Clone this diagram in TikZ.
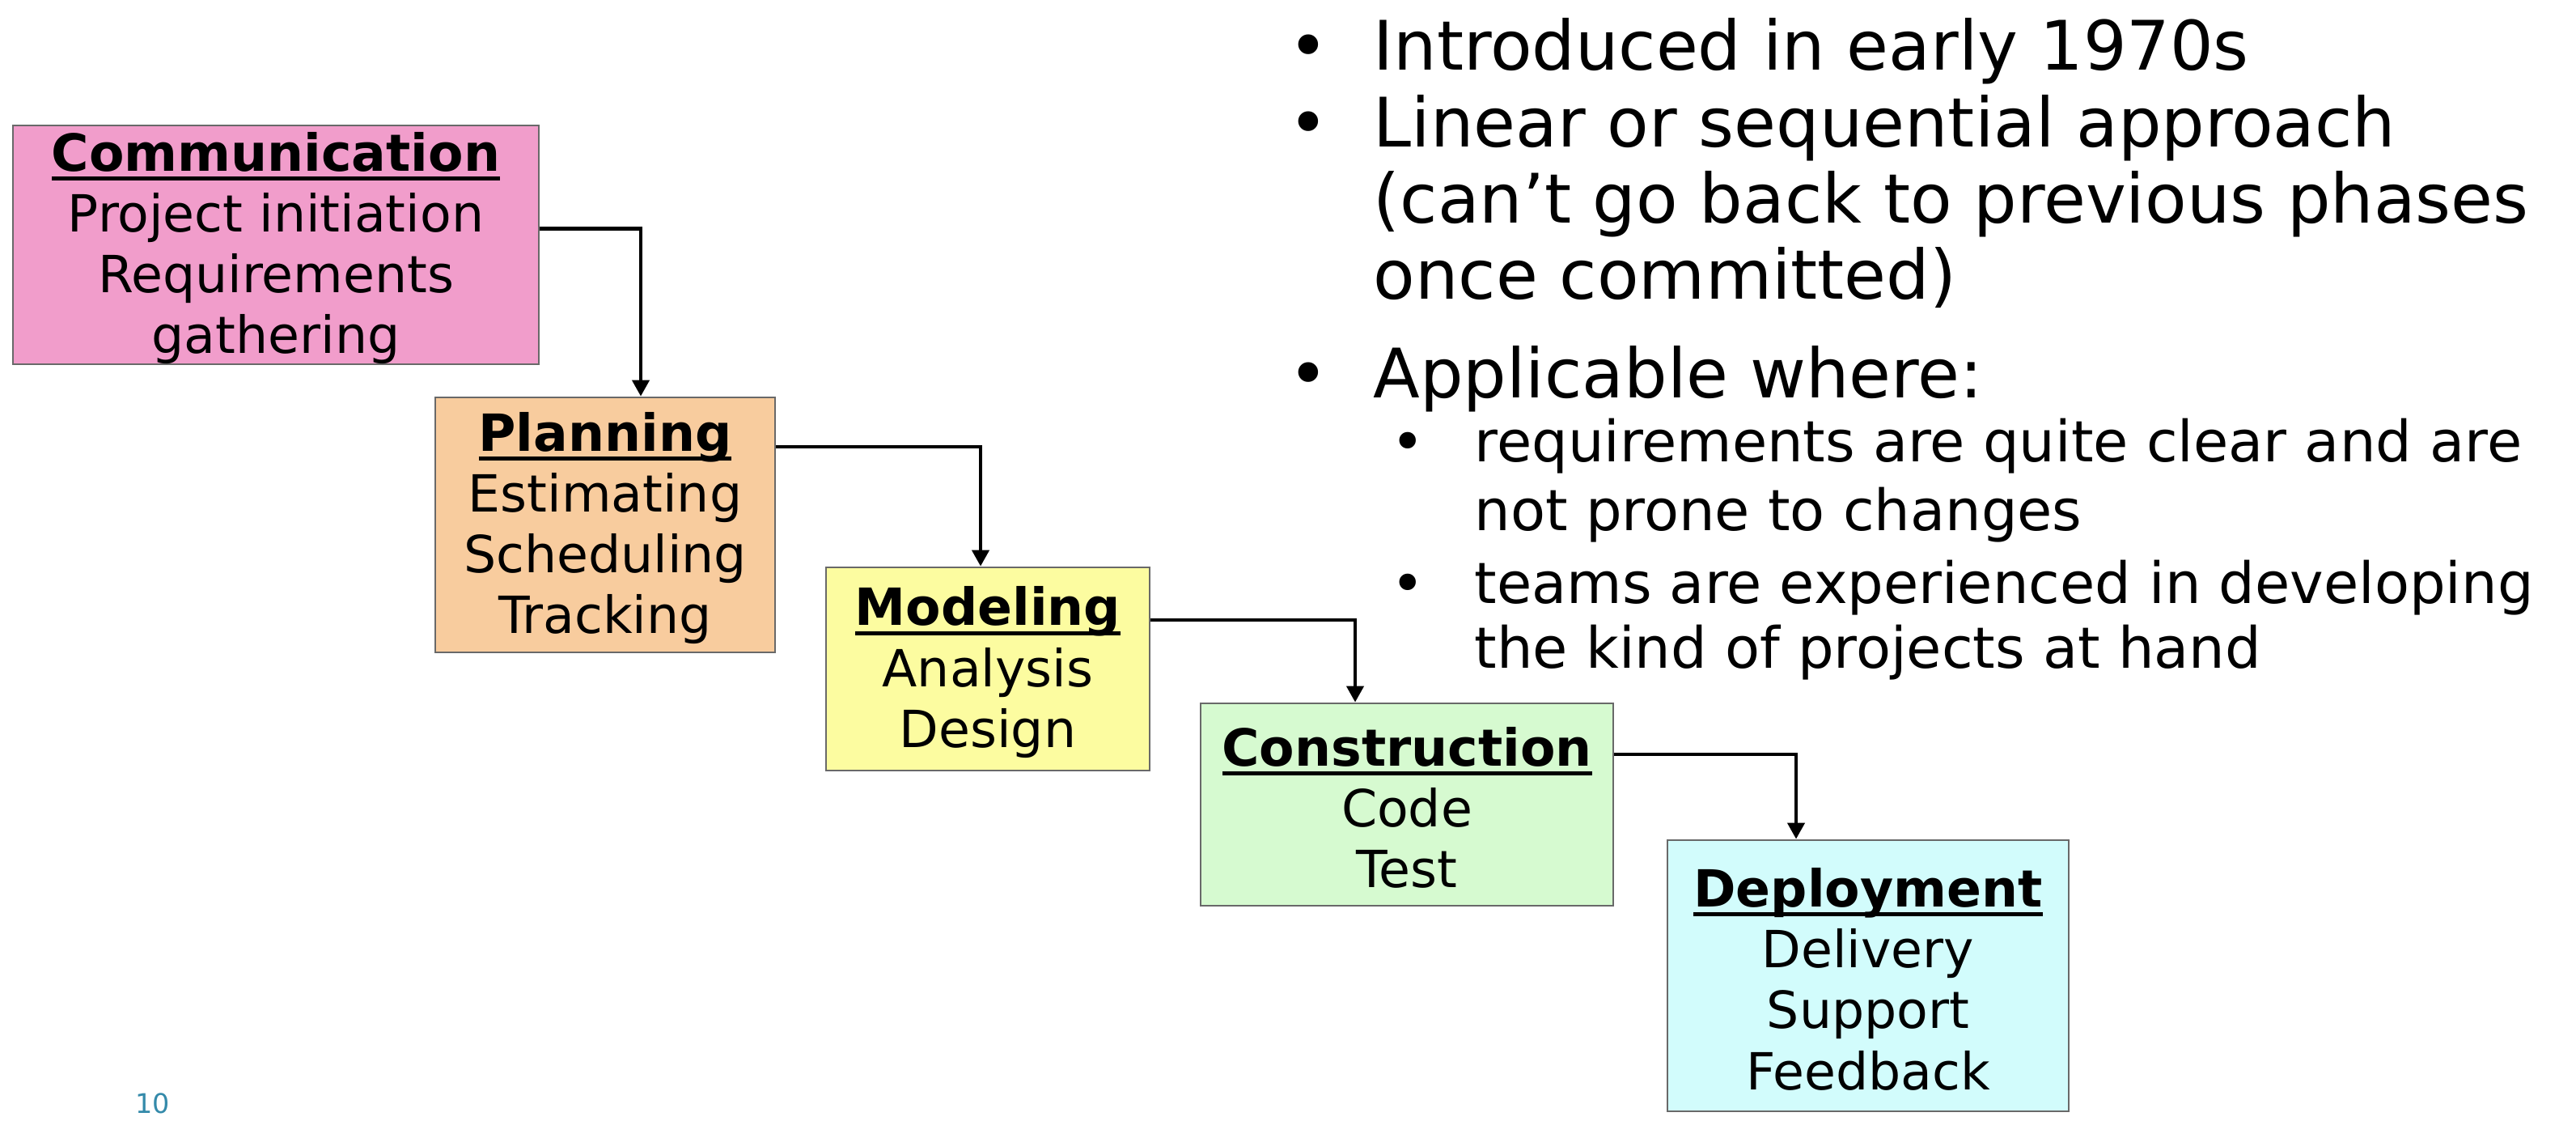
\documentclass[tikz,border=0pt]{standalone}
\usepackage{fontspec}
\setmainfont{DejaVu Sans}
\usetikzlibrary{arrows.meta}

\definecolor{commfill}{RGB}{241,157,203}
\definecolor{planfill}{RGB}{248,204,158}
\definecolor{modelfill}{RGB}{252,252,160}
\definecolor{consfill}{RGB}{214,250,208}
\definecolor{depfill}{RGB}{210,252,252}
\definecolor{boxline}{RGB}{105,105,105}
\definecolor{pagenum}{RGB}{52,138,170}

% bold phase title with a heavy underline (and a little headroom above)
\newcommand\phasehead[1]{\rule{0pt}{16pt}\setbox0\hbox{\bfseries #1}\rlap{\rule[-3.4pt]{\wd0}{1.5pt}}\box0}

\begin{document}
\begin{tikzpicture}[x=1cm,y=-1cm,
  phase/.style={draw=boxline, line width=0.8pt, inner sep=0pt, align=center,
    font=\fontsize{18}{21.4}\selectfont},
  flow/.style={line width=1.2pt, -{Triangle[length=0.2cm,width=0.21cm]}},
  mainline/.style={anchor=base west, inner sep=0pt, font=\fontsize{24}{28}\selectfont},
  subline/.style={anchor=base west, inner sep=0pt, font=\fontsize{20}{24}\selectfont},
  mainbullet/.style={anchor=base, inner sep=0pt, font=\fontsize{24}{28}\selectfont},
  subbullet/.style={anchor=base, inner sep=0pt, font=\fontsize{20}{24}\selectfont}]

\fill[white] (0,0) rectangle (31.84,14.06);
\useasboundingbox (0,0) rectangle (31.84,14.06);

% waterfall phases
\node[phase, fill=commfill, minimum width=6.5cm, minimum height=2.93cm] (comm) at (3.41,3.025)
  {\phasehead{Communication}\\Project initiation\\Requirements\\gathering};
\node[phase, fill=planfill, minimum width=4.2cm, minimum height=3.15cm] (plan) at (7.48,6.485)
  {\phasehead{Planning}\\Estimating\\Scheduling\\Tracking};
\node[phase, fill=modelfill, minimum width=4.0cm, minimum height=2.51cm] (model) at (12.21,8.265)
  {\phasehead{Modeling}\\Analysis\\Design};
\node[phase, fill=consfill, minimum width=5.1cm, minimum height=2.5cm] (cons) at (17.39,9.94)
  {\phasehead{Construction}\\Code\\Test};
\node[phase, fill=depfill, minimum width=4.96cm, minimum height=3.35cm] (dep) at (23.09,12.055)
  {\phasehead{Deployment}\\Delivery\\Support\\Feedback};

% step-down connectors
\draw[flow] ([yshift=0.2cm]comm.east) -| ([xshift=0.44cm]plan.north);
\draw[flow] ([yshift=0.965cm]plan.east) -| ([xshift=-0.09cm]model.north);
\draw[flow] ([yshift=0.605cm]model.east) -| ([xshift=-0.64cm]cons.north);
\draw[flow] ([yshift=0.62cm]cons.east) -| ([xshift=-0.89cm]dep.north);

% notes
\node[mainbullet] (d1) at (16.17,0.87) {•};
\node[mainline] (t1) at (16.97,0.87) {Introduced in early 1970s};
\node[mainbullet] (d2) at (16.17,1.82) {•};
\node[mainline] (t2a) at (16.97,1.82) {Linear or sequential approach};
\node[mainline] (t2b) at (16.97,2.75) {(can’t go back to previous phases};
\node[mainline] (t2c) at (16.97,3.69) {once committed)};
\node[mainbullet] (d3) at (16.17,4.91) {•};
\node[mainline] (t3) at (16.97,4.91) {Applicable where:};
\node[subbullet] (s1) at (17.40,5.70) {•};
\node[subline] (u1a) at (18.22,5.70) {requirements are quite clear and are};
\node[subline] (u1b) at (18.22,6.55) {not prone to changes};
\node[subbullet] (s2) at (17.40,7.45) {•};
\node[subline] (u2a) at (18.22,7.45) {teams are experienced in developing};
\node[subline] (u2b) at (18.22,8.25) {the kind of projects at hand};

% slide number
\node[font=\fontsize{9.5}{10}\selectfont, text=pagenum] (pg) at (1.89,13.63) {10};
\end{tikzpicture}
\end{document}
